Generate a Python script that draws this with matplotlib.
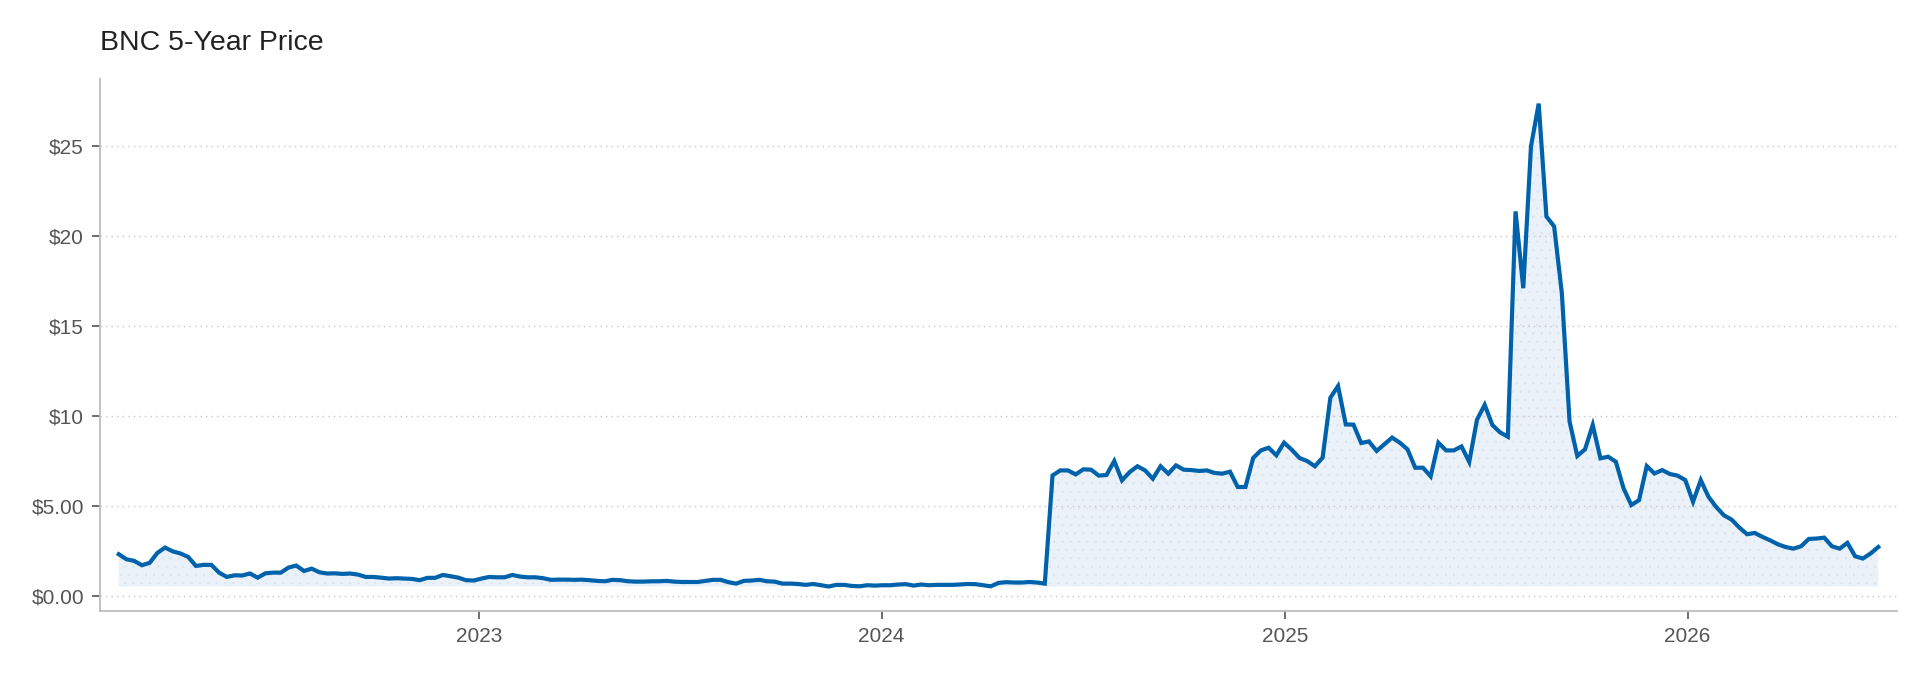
import matplotlib
matplotlib.use("Agg")
import matplotlib.pyplot as plt
import matplotlib.dates as mdates
from matplotlib.ticker import FuncFormatter, MultipleLocator
import numpy as np
import pandas as pd

# ---- data (weekly closing prices) ----
title = "BNC 5-Year Price"
start_date = "2022-02-08"

prices_early = [
    2.33, 2.05, 1.96, 1.72, 1.85, 2.40, 2.70, 2.49, 2.37, 2.18,
    1.68, 1.74, 1.74, 1.31, 1.07, 1.16, 1.15, 1.26, 1.03, 1.27,
    1.31, 1.31, 1.59, 1.70, 1.40, 1.53, 1.33, 1.26, 1.27, 1.24,
    1.26, 1.20, 1.07, 1.07, 1.03, 0.98, 1.00, 0.98, 0.96, 0.89,
    1.02, 1.02, 1.18, 1.11, 1.03, 0.89, 0.87, 0.98, 1.07, 1.05,
    1.05, 1.18, 1.09, 1.05, 1.05, 1.00, 0.91, 0.92, 0.92, 0.91,
    0.92,
]
prices_flat = [
    0.89, 0.85, 0.83, 0.91, 0.89, 0.83, 0.81, 0.81, 0.83, 0.83,
    0.85, 0.81, 0.79, 0.79, 0.79, 0.85, 0.91, 0.91, 0.78, 0.70,
    0.85, 0.87, 0.91, 0.83, 0.81, 0.70, 0.70, 0.68, 0.63, 0.68,
    0.61, 0.54, 0.63, 0.63, 0.57, 0.55, 0.61, 0.59, 0.61, 0.61,
    0.65, 0.67, 0.59, 0.65, 0.61, 0.63, 0.63, 0.63, 0.65, 0.68,
    0.67, 0.61, 0.55, 0.74, 0.78, 0.76, 0.76, 0.79, 0.76, 0.70,
]
prices_mid = [
    6.70,
    6.98, 6.98, 6.76, 7.04, 7.02, 6.69, 6.73, 7.50, 6.43, 6.89,
    7.21, 6.98, 6.52, 7.21, 6.80, 7.26, 7.02, 7.00, 6.95, 6.98,
    6.84, 6.80, 6.91, 6.06, 6.06, 7.67, 8.09, 8.24, 7.82, 8.52,
    8.13, 7.67, 7.50, 7.21, 7.69, 11.01, 11.66, 9.53, 9.52, 8.50,
    8.59, 8.06, 8.43, 8.80, 8.52, 8.15, 7.13, 7.13, 6.65, 8.52,
    8.09, 8.09, 8.31, 7.45, 9.79, 10.62,
]
prices_spike = [
    9.50, 9.09, 8.85, 21.35, 17.09, 24.96, 27.33, 21.07, 20.52, 16.81,
    9.69, 7.78, 8.15, 9.50, 7.65, 7.74, 7.46, 5.98, 5.06, 5.33,
    7.22, 6.81, 7.00, 6.78, 6.69, 6.44, 5.24, 6.44, 5.52, 4.95,
]
prices_late = [
    4.49, 4.25, 3.81, 3.44, 3.51, 3.29, 3.10, 2.88, 2.73, 2.64,
    2.77, 3.18, 3.20, 3.25, 2.77, 2.64, 2.96, 2.22, 2.09, 2.37, 2.73,
]

prices = np.array(prices_early + prices_flat + prices_mid + prices_spike + prices_late)
dates = pd.date_range(start=start_date, periods=len(prices), freq="7D")

# ---- style ----
LINE = "#0062AA"
FILL = "#EBF1F8"
HATCH = "#DCE6F2"
SPINE = "#BDBDBD"
TICK = "#555555"

plt.rcParams["font.family"] = ["Liberation Sans", "DejaVu Sans"]
plt.rcParams["hatch.linewidth"] = 0.6

fig = plt.figure(figsize=(19.24, 6.76), dpi=100)
fig.subplots_adjust(left=100 / 1924, right=1897 / 1924, top=1 - 79 / 676, bottom=1 - 611 / 676)
ax = fig.add_subplot(111)

ax.fill_between(dates, prices, prices.min(), facecolor=FILL, edgecolor=HATCH,
                hatch="..", linewidth=0, zorder=1)
ax.plot(dates, prices, color=LINE, linewidth=3.0, solid_joinstyle="miter", zorder=3)

pad = pd.Timedelta(days=17)
ax.set_xlim(dates[0] - pad, dates[-1] + pad)
ymax = prices.max()
ax.set_ylim(-0.03 * ymax, 1.05 * ymax)

ax.yaxis.set_major_locator(MultipleLocator(5))
ax.yaxis.set_major_formatter(FuncFormatter(lambda v, p: f"${v:.2f}" if v < 10 else f"${v:.0f}"))
ax.xaxis.set_major_locator(mdates.YearLocator())
ax.xaxis.set_major_formatter(mdates.DateFormatter("%Y"))

ax.grid(axis="y", linestyle=(0, (1, 3)), color="#C8C8C8", linewidth=1.0, zorder=0)
ax.grid(axis="x", visible=False)

for s in ["top", "right"]:
    ax.spines[s].set_visible(False)
for s in ["left", "bottom"]:
    ax.spines[s].set_color(SPINE)
    ax.spines[s].set_linewidth(1.3)

ax.tick_params(axis="both", direction="out", length=5.5, width=1.2, color=TICK,
               labelcolor=TICK, labelsize=15, pad=6)

ax.set_title(title, loc="left", fontsize=20.5, color="#222222", pad=21)

fig.savefig("out.png", dpi=100, facecolor="white")
